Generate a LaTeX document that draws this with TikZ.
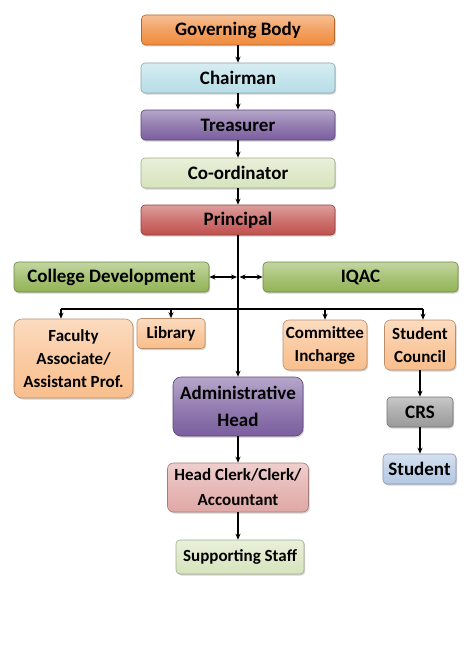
\documentclass[tikz,border=0pt]{standalone}
\usepackage{fontspec}
\setmainfont{Carlito}
\usetikzlibrary{arrows.meta,shadows}
\definecolor{cOrange}{HTML}{F08A3C}
\definecolor{cBlue}{HTML}{B7DEE8}
\definecolor{cPurple}{HTML}{7A5E9E}
\definecolor{cLGreen}{HTML}{D7E4BD}
\definecolor{cRed}{HTML}{C0504D}
\definecolor{cGreen}{HTML}{92B455}
\definecolor{cPeach}{HTML}{F9BE8C}
\definecolor{cPink}{HTML}{E0A8A6}
\definecolor{cGray}{HTML}{9A9A9A}
\definecolor{cSBlue}{HTML}{B3C8E3}
\tikzset{
  box/.style={rounded corners=4pt, align=center, font=\bfseries\fontsize{19}{23}\selectfont,
    inner sep=0pt, draw=#1!75!black, line width=0.6pt,
    top color=#1!55!white, bottom color=#1, middle color=#1!80!white,
    drop shadow={shadow xshift=1.2pt, shadow yshift=-1.5pt, opacity=0.35}},
  small/.style={font=\bfseries\fontsize{17}{23}\selectfont},
  conn/.style={line width=1.3pt, -{Stealth[length=6pt,width=5pt]}},
  bconn/.style={line width=1.3pt, {Stealth[length=6pt,width=5pt]}-{Stealth[length=6pt,width=5pt]}},
  plain/.style={line width=1.3pt}
}
\begin{document}
\begin{tikzpicture}[x=1pt,y=-1pt]
\useasboundingbox[fill=white] (0,0) rectangle (474,669);
\node[box=cOrange, minimum width=193, minimum height=30] (gb) at (238,30) {Governing Body};
\node[box=cBlue, minimum width=194, minimum height=30] (ch) at (238,78) {Chairman};
\node[box=cPurple, minimum width=194, minimum height=30] (tr) at (238,125) {Treasurer};
\node[box=cLGreen, minimum width=194, minimum height=30] (co) at (238,173) {Co-ordinator};
\node[box=cRed, minimum width=194, minimum height=30] (pr) at (238,220) {Principal};
\node[box=cGreen, minimum width=195, minimum height=30] (cd) at (111.5,277) {College Development};
\node[box=cGreen, minimum width=195, minimum height=30] (iq) at (360.5,277) {IQAC};
\node[box=cPeach, small, rounded corners=8pt, minimum width=119, minimum height=79] (fa) at (73.5,358.5) {Faculty\\Associate/\\Assistant Prof.};
\node[box=cPeach, small, minimum width=68, minimum height=30] (li) at (171,333.5) {Library};
\node[box=cPeach, small, rounded corners=6pt, minimum width=84, minimum height=50] (cm) at (325,345) {Committee\\Incharge};
\node[box=cPeach, small, rounded corners=6pt, minimum width=71, minimum height=50] (sc) at (420,345) {Student\\Council};
\node[box=cPurple, rounded corners=8pt, minimum width=130, minimum height=59, font=\bfseries\fontsize{19}{27}\selectfont] (ah) at (238,406.5) {Administrative\\Head};
\node[box=cPink, small, rounded corners=6pt, minimum width=141, minimum height=49, font=\bfseries\fontsize{17}{25}\selectfont] (hc) at (238,487.5) {Head Clerk/Clerk/\\Accountant};
\node[box=cLGreen, small, minimum width=128, minimum height=34] (ss) at (240,557) {Supporting Staff};
\node[box=cGray, minimum width=66, minimum height=30] (crs) at (420,412) {CRS};
\node[box=cSBlue, minimum width=73, minimum height=30] (st) at (419.5,469) {Student};
% connectors
\draw[conn] (gb) -- (ch);
\draw[conn] (ch) -- (tr);
\draw[conn] (tr) -- (co);
\draw[conn] (co) -- (pr);
\draw[conn] (pr.south) -- (ah.north);
\coordinate (jL) at (237,277);
\coordinate (jR) at (239.5,277);
\draw[bconn] (cd.east) -- (jL);
\draw[bconn] (jR) -- (iq.west);
\coordinate (bF) at (61,309);
\coordinate (bL) at (171,309);
\coordinate (bC) at (325,309);
\coordinate (bS) at (423,309);
\draw[plain] (bF) -- (bS);
\draw[conn] (bF) -- (bF |- fa.north);
\draw[conn] (bL) -- (li.north);
\draw[conn] (bC) -- (cm.north);
\draw[conn] (bS) -- (bS |- sc.north);
\draw[conn] (sc) -- (crs);
\draw[conn] (crs) -- (crs.south |- st.north);
\draw[conn] (ah) -- (hc);
\draw[conn] (hc.south) -- (hc.south |- ss.north);
\end{tikzpicture}
\end{document}
